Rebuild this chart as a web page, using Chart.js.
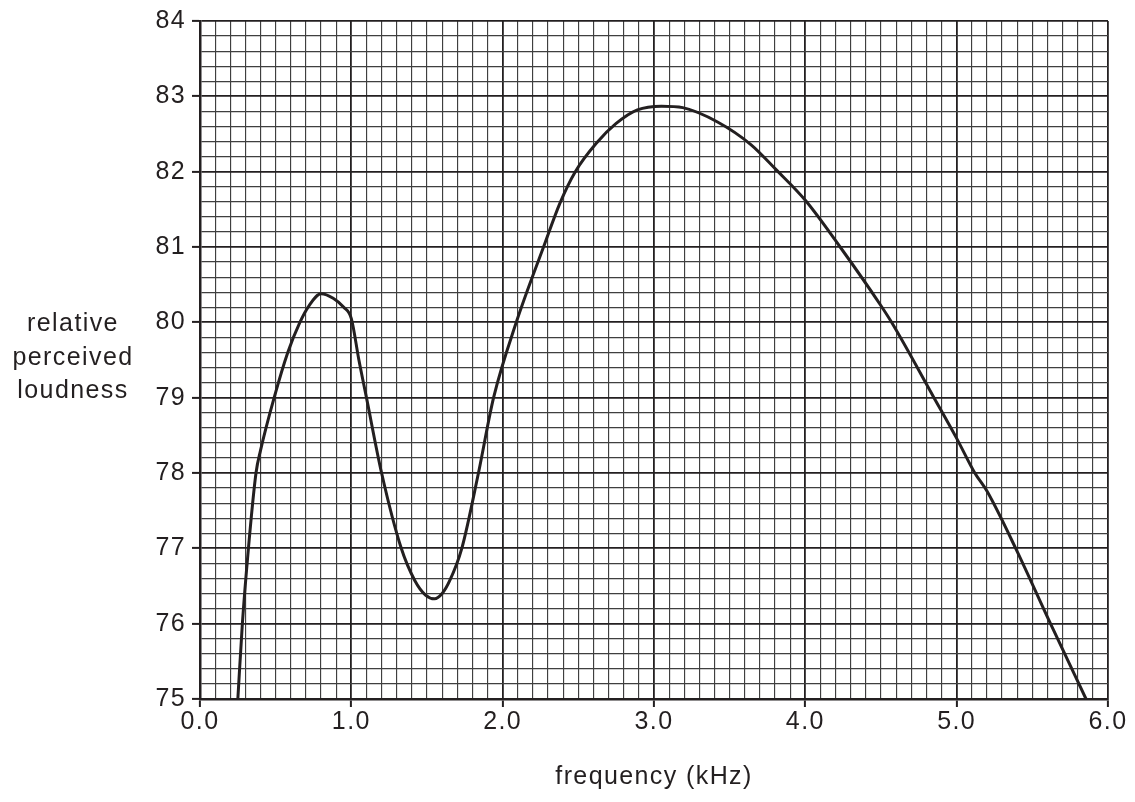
<!DOCTYPE html>
<html>
<head>
<meta charset="utf-8">
<script src="https://cdn.jsdelivr.net/npm/chart.js@4"></script>
<style>
  html, body { margin: 0; padding: 0; background: #ffffff; }
  #wrap { position: relative; width: 1135px; height: 802px; }
  #ytitle {
    position: absolute; left: 0; top: 306px; width: 146px;
    text-align: center; font-family: "Liberation Sans", Arial, sans-serif;
    font-size: 25px; line-height: 33.5px; letter-spacing: 1.4px; color: #231f20;
  }
</style>
</head>
<body>
<div id="wrap">
  <canvas id="c" width="1135" height="802"></canvas>
  <div id="ytitle">relative<br>perceived<br>loudness</div>
</div>
<script>
// frequency (kHz)
const freq = [0.25, 0.28, 0.32, 0.37, 0.40, 0.49, 0.58, 0.66, 0.72, 0.80, 0.88, 0.95, 1.00, 1.05, 1.10, 1.20, 1.33, 1.42, 1.49, 1.55, 1.60, 1.65, 1.73, 1.84, 1.94, 2.09, 2.27, 2.38, 2.48, 2.62, 2.75, 2.89, 3.05, 3.19, 3.42, 3.64, 3.81, 4.00, 4.23, 4.50, 4.57, 4.85, 5.00, 5.12, 5.20, 5.39, 5.62, 5.855];
// relative perceived loudness
const loudness = [75.0, 76.0, 77.0, 78.0, 78.3, 79.0, 79.6, 80.0, 80.22, 80.38, 80.32, 80.2, 80.05, 79.5, 79.0, 78.0, 77.0, 76.57, 76.38, 76.33, 76.4, 76.57, 77.0, 78.0, 79.0, 80.0, 81.0, 81.59, 82.0, 82.38, 82.64, 82.82, 82.87, 82.85, 82.66, 82.36, 82.02, 81.62, 81.0, 80.22, 80.0, 79.0, 78.46, 78.0, 77.76, 77.0, 76.0, 75.0];

const xMin = 0, xMax = 6, xMinor = 0.1;
const yMin = 75, yMax = 84, yMinor = 0.2;
const xTickLabels = ['0.0', '1.0', '2.0', '3.0', '4.0', '5.0', '6.0'];
const yTickLabels = ['75', '76', '77', '78', '79', '80', '81', '82', '83', '84'];
const xTitle = 'frequency (kHz)';

const isWhole = v => Math.abs(v - Math.round(v)) < 1e-6;
const FONT = { family: '"Liberation Sans", Arial, sans-serif', size: 25 };
const INK = '#231f20';
const MINOR = '#3f3f3f';

const spacingPlugin = {
  id: 'spacing',
  beforeDraw(chart) { chart.ctx.letterSpacing = '1.4px'; }
};

new Chart(document.getElementById('c'), {
  type: 'line',
  data: {
    datasets: [{
      data: freq.map((f, i) => ({ x: f, y: loudness[i] })),
      borderColor: INK,
      borderWidth: 3,
      pointRadius: 0,
      fill: false,
      cubicInterpolationMode: 'monotone',
      clip: 4
    }]
  },
  options: {
    responsive: false,
    animation: false,
    devicePixelRatio: 1,
    layout: { padding: { left: 0, right: 27, top: 17, bottom: 0 } },
    plugins: { legend: { display: false }, tooltip: { enabled: false } },
    scales: {
      x: {
        type: 'linear', min: xMin, max: xMax,
        afterBuildTicks(scale) {
          const n = Math.round((xMax - xMin) / xMinor);
          scale.ticks = Array.from({ length: n + 1 }, (_, i) => ({ value: +(xMin + i * xMinor).toFixed(2) }));
        },
        afterFit(scale) { scale.height = 103; },
        ticks: {
          autoSkip: false, maxRotation: 0, minRotation: 0, padding: 0,
          color: INK, font: FONT,
          callback: v => isWhole(v) ? xTickLabels[Math.round(v - xMin)] : ''
        },
        grid: {
          color: c => isWhole(c.tick.value) ? INK : MINOR,
          lineWidth: c => isWhole(c.tick.value) ? 1.8 : 1.15,
          tickColor: c => isWhole(c.tick.value) ? INK : 'rgba(0,0,0,0)',
          tickLength: 8, tickWidth: 2
        },
        border: { display: true, color: INK, width: 2.5 },
        title: { display: true, text: xTitle, color: INK, font: FONT, padding: { top: 0, bottom: 10 } }
      },
      y: {
        type: 'linear', min: yMin, max: yMax,
        afterBuildTicks(scale) {
          const n = Math.round((yMax - yMin) / yMinor);
          scale.ticks = Array.from({ length: n + 1 }, (_, i) => ({ value: +(yMin + i * yMinor).toFixed(2) }));
        },
        afterFit(scale) { scale.width = 200; },
        ticks: {
          autoSkip: false, padding: 6, color: INK, font: FONT,
          callback: v => isWhole(v) ? yTickLabels[Math.round(v - yMin)] : ''
        },
        grid: {
          color: c => isWhole(c.tick.value) ? INK : MINOR,
          lineWidth: c => isWhole(c.tick.value) ? 1.8 : 1.15,
          tickColor: c => isWhole(c.tick.value) ? INK : 'rgba(0,0,0,0)',
          tickLength: 8, tickWidth: 2
        },
        border: { display: true, color: INK, width: 2.5 }
      }
    }
  },
  plugins: [spacingPlugin]
});
</script>
</body>
</html>
